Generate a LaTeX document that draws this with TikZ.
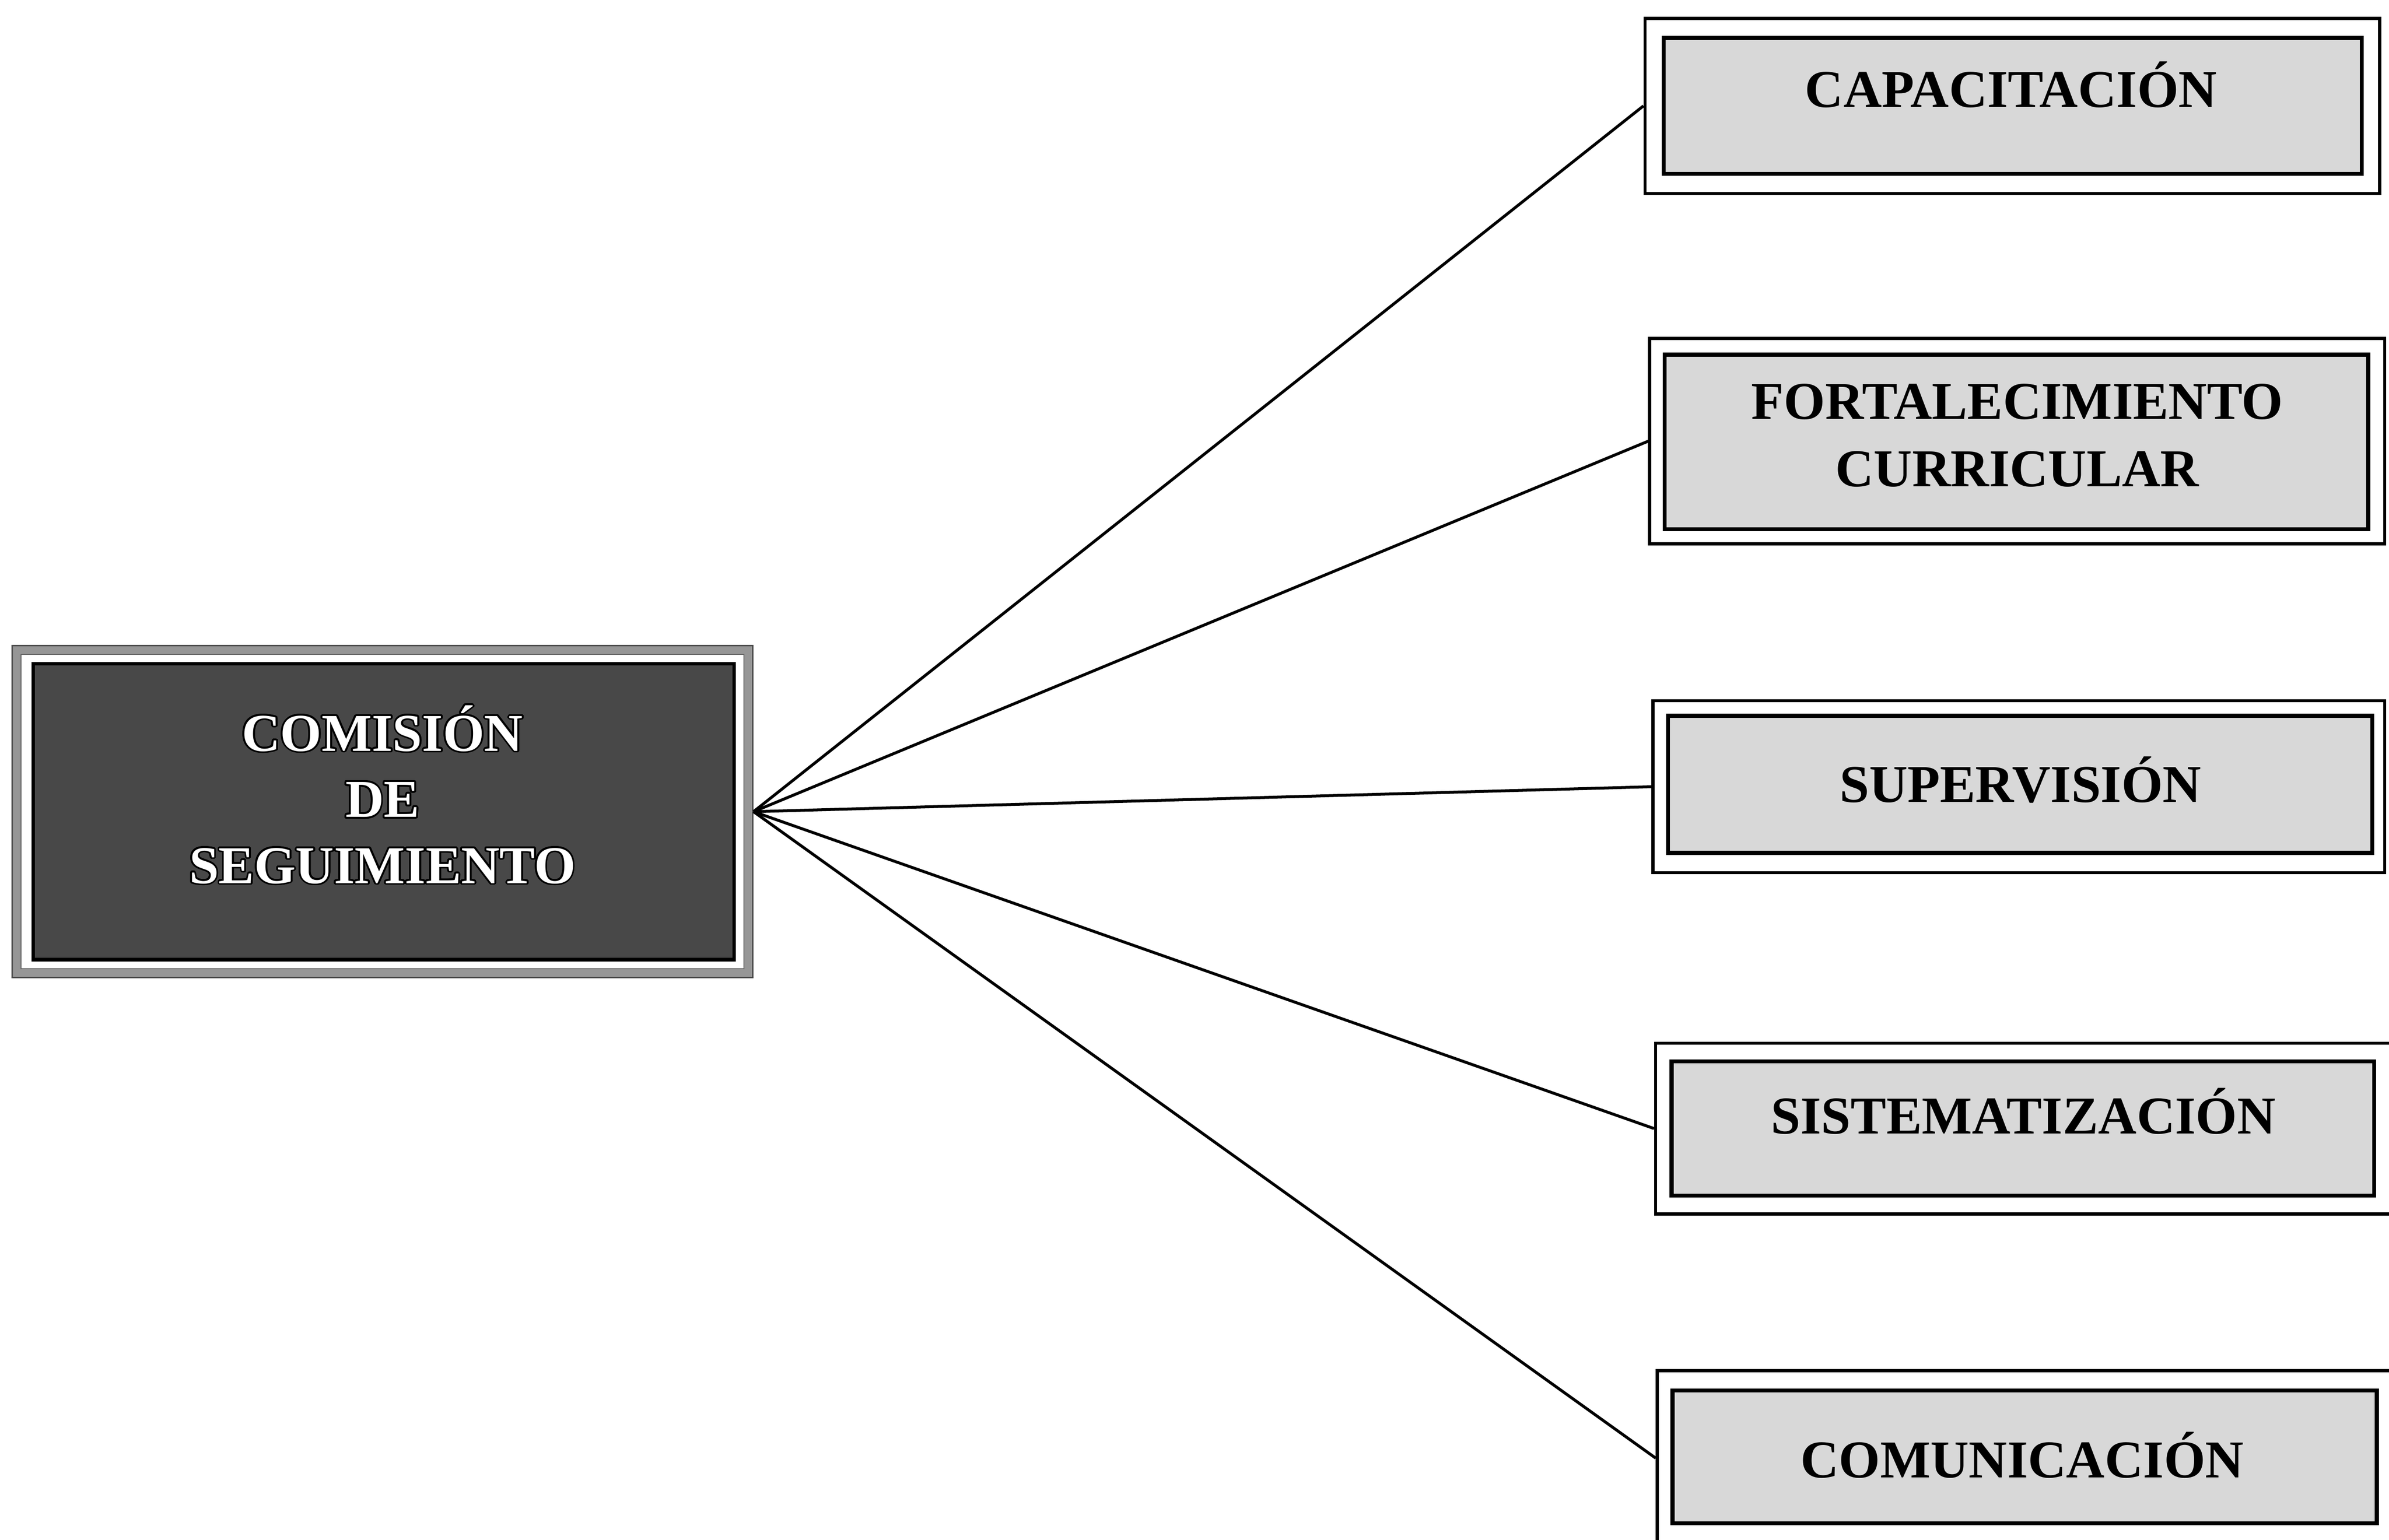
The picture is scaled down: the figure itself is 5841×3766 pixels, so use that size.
\documentclass[tikz,border=0pt]{standalone}
\usepackage{fontspec}
\setmainfont{Liberation Serif}
\usepackage{contour}
\contourlength{1.3pt}
\definecolor{boxgray}{RGB}{216,216,216}
\definecolor{darkfill}{RGB}{72,72,72}
\definecolor{framegray}{RGB}{150,150,150}
\begin{document}
\begin{tikzpicture}[x=0.01cm,y=-0.01cm,
  outerbox/.style={rectangle,draw=black,line width=2.2pt,fill=white,inner sep=0pt},
  innerbox/.style={rectangle,draw=black,line width=2.8pt,fill=boxgray,inner sep=0pt},
  lbl/.style={font=\fontsize{37}{47}\selectfont\bfseries,align=center,anchor=base,inner sep=0pt,text=black},
  wlbl/.style={font=\fontsize{37}{46}\selectfont\bfseries,align=center,anchor=base,inner sep=0pt,text=white},
  conn/.style={draw=black,line width=2pt}]
\useasboundingbox (0,0) rectangle (5841,3766);
\fill[white] (0,0) rectangle (5841,3766);

% left node
\node[rectangle,draw=black!70,line width=1pt,fill=framegray,minimum width=18.10cm,minimum height=8.12cm,inner sep=0pt] (LF) at (935,1985) {};
\node[rectangle,draw=black!60,line width=0.6pt,fill=white,minimum width=17.66cm,minimum height=7.68cm,inner sep=0pt] (LW) at (935,1985) {};
\node[rectangle,draw=black,line width=2.5pt,fill=darkfill,minimum width=17.13cm,minimum height=7.23cm,inner sep=0pt] (LC) at (938,1985) {};
\node[wlbl] (LT) at (935,2160) {\contour{black}{COMISIÓN}\\\contour{black}{DE}\\\contour{black}{SEGUIMIENTO}};

% right boxes
\node[outerbox,minimum width=17.95cm,minimum height=4.28cm] (O1) at (4920,259) {};
\node[innerbox,minimum width=17.06cm,minimum height=3.32cm] (I1) at (4921,259) {};
\node[lbl] (T1) at (4917,262) {CAPACITACIÓN};

\node[outerbox,minimum width=17.96cm,minimum height=5.02cm] (O2) at (4932,1079) {};
\node[innerbox,minimum width=17.19cm,minimum height=4.27cm] (I2) at (4930,1081) {};
\node[lbl] (T2) at (4932,1190) {FORTALECIMIENTO\\CURRICULAR};

\node[outerbox,minimum width=17.88cm,minimum height=4.20cm] (O3) at (4936,1924) {};
\node[innerbox,minimum width=17.21cm,minimum height=3.35cm] (I3) at (4939,1918) {};
\node[lbl] (T3) at (4940,1962) {SUPERVISIÓN};

\node[outerbox,minimum width=18.01cm,minimum height=4.17cm] (O4) at (4949,2760) {};
\node[innerbox,minimum width=17.17cm,minimum height=3.28cm] (I4) at (4946,2760) {};
\node[lbl] (T4) at (4947,2773) {SISTEMATIZACIÓN};

\node[outerbox,minimum width=17.97cm,minimum height=4.27cm] (O5) at (4951,3566) {};
\node[innerbox,minimum width=17.21cm,minimum height=3.24cm] (I5) at (4950,3563) {};
\node[lbl] (T5) at (4944,3614) {COMUNICACIÓN};

% connectors
\foreach \b in {O1,O2,O3,O4,O5}
  \draw[conn] (LF.east) -- (\b.west);
\end{tikzpicture}
\end{document}
